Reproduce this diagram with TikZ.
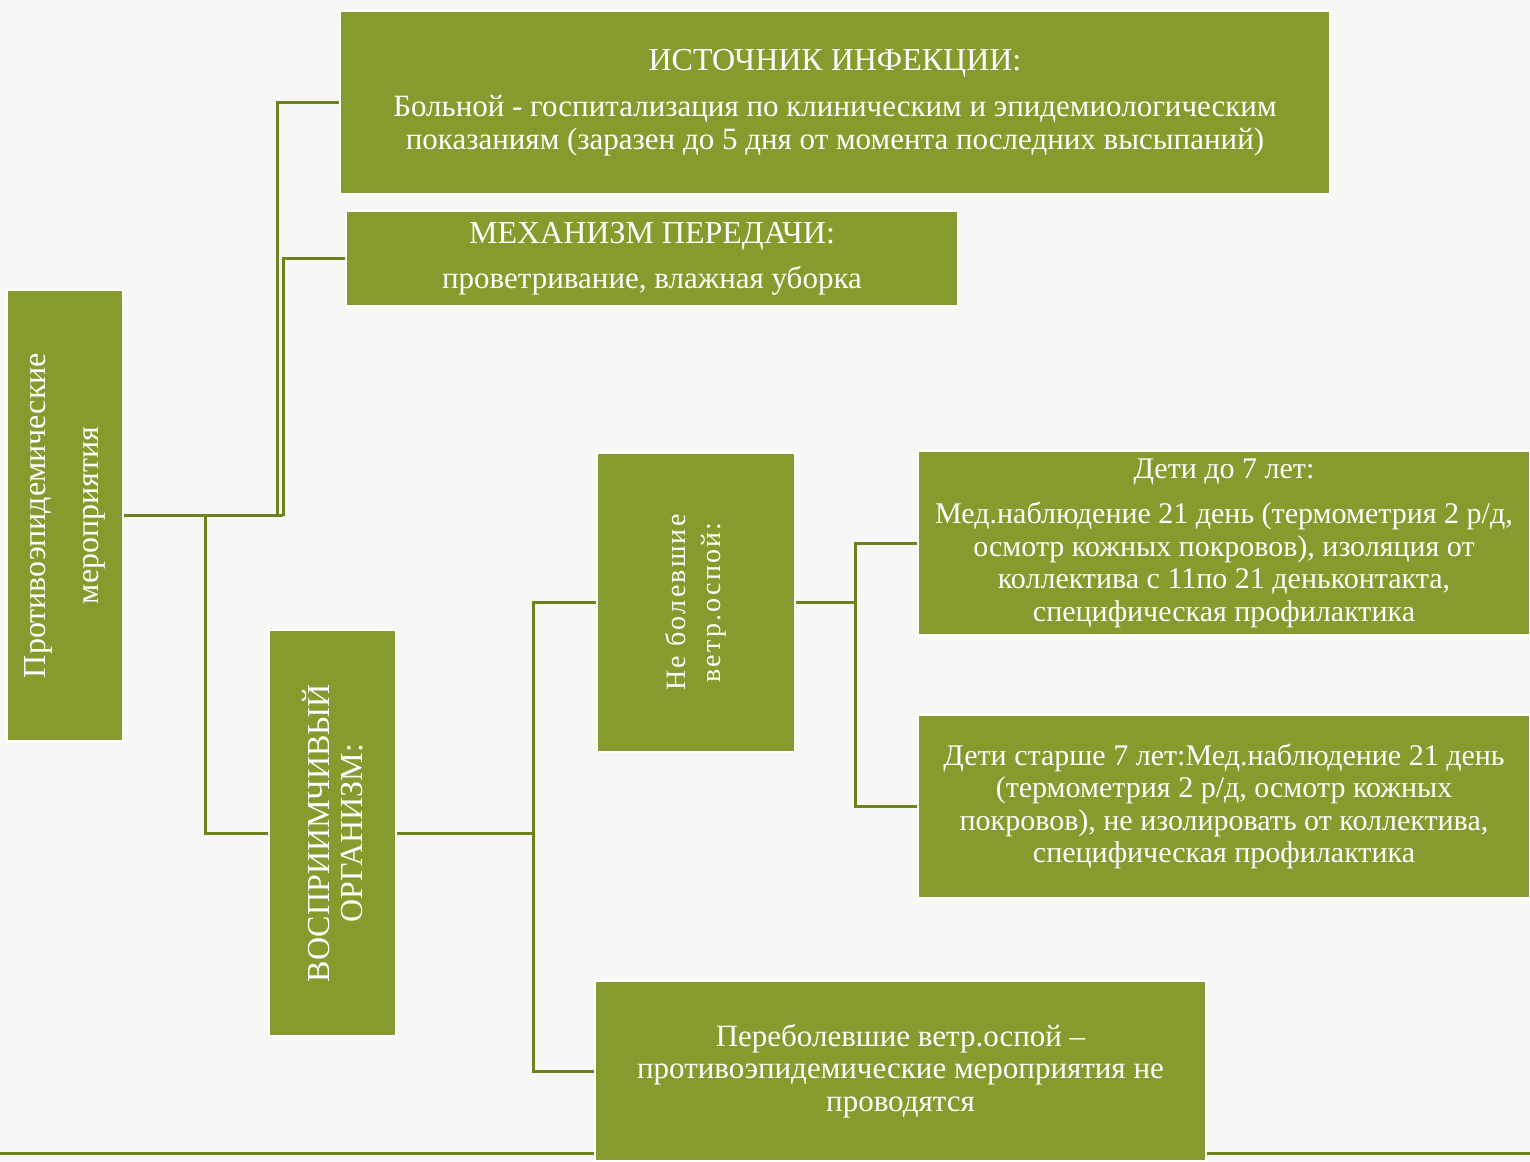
\documentclass[tikz,border=0pt]{standalone}
\usepackage{fontspec}
\setmainfont{Liberation Serif}
\usetikzlibrary{calc}
\definecolor{boxgreen}{RGB}{134,155,46}
\definecolor{linegreen}{RGB}{108,130,30}
\definecolor{paper}{RGB}{247,247,245}
\tikzset{
  greenbox/.style = {draw=white, line width=1.2pt, fill=boxgreen, text=white,
                     align=center, inner sep=0pt,
                     font=\fontsize{31}{32.5}\selectfont},
  upbox/.style    = {greenbox, rotate=90, font=\fontsize{32}{33}\selectfont},
  link/.style     = {linegreen, line width=3pt},
}

\begin{document}
\begin{tikzpicture}[x=1pt, y=-1pt]

    % --- page ---------------------------------------------------------------
    \useasboundingbox (0,0) rectangle (1530,1161);
    \fill[paper] (0,0) rectangle (1530,1161);
    \draw[linegreen, line width=3pt] (0,1153) -- (1530,1153);

    % --- boxes (upbox: north = left side, south = right side) ---------------
    \node[upbox, minimum width=451pt, minimum height=116pt] (root) at (65,515.5)
      {Противоэпидемические\\[20pt]мероприятия};
    \node[greenbox, minimum width=990pt, minimum height=183pt] (src) at (835,102.5)
      {\fontsize{32}{32}\selectfont ИСТОЧНИК ИНФЕКЦИИ:\\[14pt]Больной - госпитализация по клиническим и эпидемиологическим\\
       показаниям (заразен до 5 дня от момента последних высыпаний)};
    \node[greenbox, minimum width=612pt, minimum height=95pt] (mech) at (652,258.5)
      {\fontsize{32}{32}\selectfont МЕХАНИЗМ ПЕРЕДАЧИ:\\[12pt]проветривание, влажная уборка};
    \node[upbox, minimum width=406pt, minimum height=127pt] (vospr) at (332.5,833)
      {ВОСПРИИМЧИВЫЙ\\ОРГАНИЗМ:};
    \node[upbox, minimum width=299pt, minimum height=198pt,
          font=\fontsize{28}{35}\selectfont\addfontfeatures{LetterSpace=8}] (ne) at (696,602.5)
      {Не болевшие\\ветр.оспой:};
    \node[greenbox, minimum width=612pt, minimum height=184pt,
          font=\fontsize{30}{32.5}\selectfont] (kids) at (1224,543)
      {Дети до 7 лет:\\[13pt]Мед.наблюдение 21 день (термометрия 2 р/д,\\
       осмотр кожных покровов), изоляция от\\
       коллектива с 11по 21 деньконтакта,\\
       специфическая профилактика};
    \node[greenbox, minimum width=612pt, minimum height=183pt,
          font=\fontsize{30}{32.5}\selectfont] (older) at (1224,806.5)
      {Дети старше 7 лет:Мед.наблюдение 21 день\\
       (термометрия 2 р/д, осмотр кожных\\
       покровов), не изолировать от коллектива,\\
       специфическая профилактика};
    \node[greenbox, minimum width=611pt, minimum height=180pt] (past) at (900.5,1071)
      {Переболевшие ветр.оспой –\\
       противоэпидемические мероприятия не\\
       проводятся};

    % --- connectors ---------------------------------------------------------
    \coordinate (r1) at (277,515.5);
    \coordinate (r2) at (283,515.5);
    \coordinate (r3) at (205,515.5);
    \draw[link] (root.south) -- (r2);
    \draw[link] (r1) |- (src.west);
    \draw[link] (r2) |- (mech.west);
    \draw[link] (r3) |- (vospr.north);

    \coordinate (v1) at (533,833);
    \draw[link] (vospr.south) -- (v1);
    \draw[link] (ne.north) -| (v1);
    \draw[link] (past.west) -| (v1);

    \coordinate (n1) at (855,602.5);
    \draw[link] (ne.south) -- (n1);
    \draw[link] (kids.west) -| (n1);
    \draw[link] (older.west) -| (n1);

  \end{tikzpicture}
\end{document}
